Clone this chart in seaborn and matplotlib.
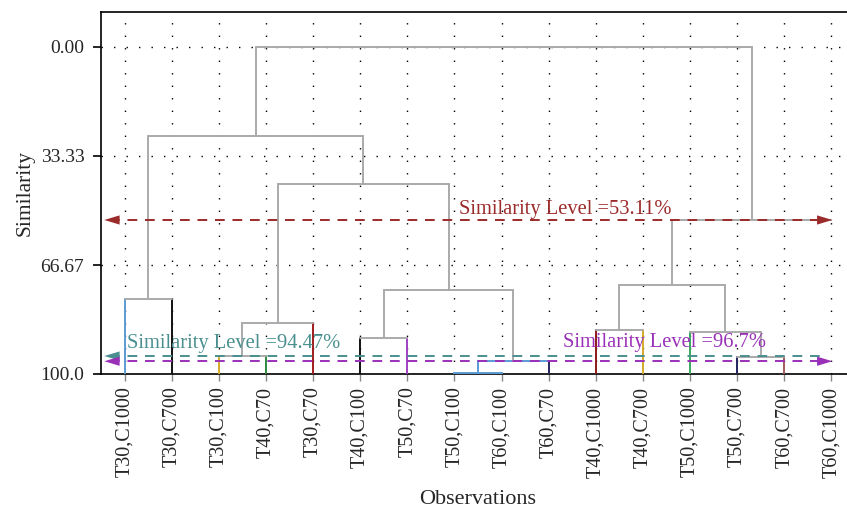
import matplotlib
matplotlib.use("Agg")
import matplotlib.pyplot as plt
import seaborn as sns

sns.set_style("white")
plt.rcParams['font.family'] = ['Liberation Serif', 'DejaVu Serif']

# leaves in dendrogram order
leaves = ["T30,C1000", "T30,C700", "T30,C100", "T40,C70", "T30,C70", "T40,C100",
          "T50,C70", "T50,C100", "T60,C100", "T60,C70", "T40,C1000", "T40,C700",
          "T50,C1000", "T50,C700", "T60,C700", "T60,C1000"]
leaf_colors = ["#5b9bd5", "#111111", "#d4a82a", "#2e8b3e", "#a01c1c", "#111111",
               "#a040c0", "#5b9bd5", "#5b9bd5", "#22225e", "#8b1a1a", "#d4a82a",
               "#3aa860", "#22225e", "#a05a5a", "none"]

# merges (scipy style ids: 0-15 leaves, 16+ clusters)
merge_left = [7, 16, 2, 18, 5, 20, 19, 0, 23, 10, 13, 12, 25, 28, 24]
merge_right = [8, 9, 3, 4, 6, 17, 21, 1, 22, 11, 14, 26, 27, 15, 29]
merge_height = [99.6, 96.0, 94.6, 84.4, 89.0, 74.3, 41.9, 77.1, 27.2,
                86.5, 94.8, 87.2, 72.8, 52.9, 0.0]
merge_color = ["#5b9bd5", "#5b9bd5"] + ["#aaaaaa"] * 13

# similarity level lines
level_values = [52.9, 94.5, 96.1]
level_labels = ["Similarity Level =53.11%", "Similarity Level =94.47%", "Similarity Level =96.7%"]
level_colors = ["#9b2a2a", "#4a8f8f", "#9a30b8"]
label_x = [9.36, 2.31, 11.46]
label_y = [49.8, 90.6, 90.3]

fig = plt.figure(figsize=(8.47, 5.08), dpi=100)
ax = fig.add_axes([101 / 847, 134 / 508, 754 / 847, 362 / 508])

xpos = {i: float(i) for i in range(len(leaves))}
ypos = {i: 100.0 for i in range(len(leaves))}
for k, (l, r, h) in enumerate(zip(merge_left, merge_right, merge_height)):
    node = len(leaves) + k
    xpos[node] = (xpos[l] + xpos[r]) / 2
    ypos[node] = h
    c = merge_color[k]
    for child in (l, r):
        vc = leaf_colors[child] if child < len(leaves) else c
        if vc != "none":
            ax.plot([xpos[child], xpos[child]], [ypos[child], h], color=vc, lw=1.4, zorder=3)
    ax.plot([xpos[l], xpos[r]], [h, h], color=c, lw=1.4, zorder=3)

# dashed similarity level lines with arrowheads
head = "-|>,head_length=1.0,head_width=0.3"
for v, lab, c, tx, ty in zip(level_values, level_labels, level_colors, label_x, label_y):
    ax.plot([-0.3, 14.85], [v, v], color=c, lw=1.4, ls=(0, (5, 4)), zorder=4)
    ax.annotate("", xy=(-0.43, v), xytext=(-0.1, v),
                arrowprops=dict(arrowstyle=head, color=c, lw=0.01, mutation_scale=11,
                                shrinkA=0, shrinkB=0), zorder=5)
    if c != "#4a8f8f":
        ax.annotate("", xy=(15.02, v), xytext=(14.7, v),
                    arrowprops=dict(arrowstyle=head, color=c, lw=0.01, mutation_scale=11,
                                    shrinkA=0, shrinkB=0), zorder=5)
    ax.text(tx, ty, lab, color=c, fontsize=14.8, ha="center", va="center", zorder=6)

ax.set_xlim(-0.5, 15.5)
ax.set_ylim(100, -10.7)
ax.set_xticks(range(len(leaves)))
ax.set_xticklabels(leaves, rotation=90, fontsize=14.5)
ax.set_yticks([0, 33.33, 66.67, 100])
ax.set_yticklabels(["0.00", "33.33", "66.67", "100.0"], fontsize=14)
ax.grid(True, color="black", linestyle=(0, (1, 8)), linewidth=1.0)
ax.set_axisbelow(True)
for s in ax.spines.values():
    s.set_color("black")
    s.set_linewidth(1.2)
ax.tick_params(axis="y", left=True, length=6, width=1.2, color="black", pad=6)
ax.tick_params(axis="x", bottom=True, length=5, width=1.0, color="#888888", pad=4)
ax.set_xlabel("Observations", fontsize=16, labelpad=9)
ax.set_ylabel("Similarity", fontsize=15.5, labelpad=4)

fig.savefig("out.png", dpi=100)
